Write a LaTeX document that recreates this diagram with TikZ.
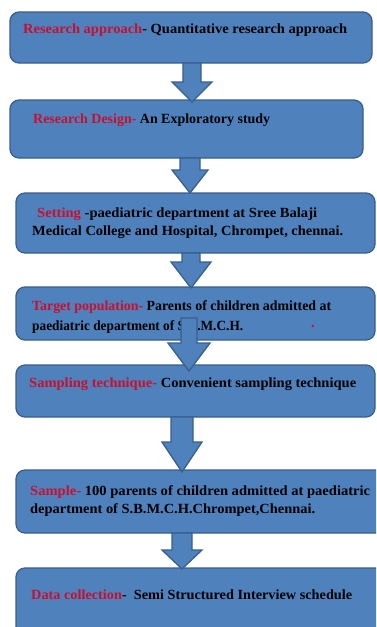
\documentclass[tikz,border=0pt]{standalone}
\usepackage{fontspec}
\setmainfont{Liberation Serif}
\usepackage{graphicx}
\definecolor{boxfill}{HTML}{4F81BD}
\definecolor{boxline}{HTML}{3A5F8B}
\definecolor{tred}{HTML}{C8102E}
\tikzset{
  flowbox/.style={draw=boxline, fill=boxfill, line width=1.3pt, rounded corners=9pt, inner sep=0pt},
  blockarrow/.style={draw=boxline, fill=boxfill, line width=1.3pt, line join=miter},
  txt/.style={anchor=base west, inner sep=0pt, font=\bfseries\fontsize{14}{16}\selectfont, text=black},
}
\newcommand{\fitw}[2]{\resizebox{#1}{\height}{#2}}
\newcommand{\rd}[1]{\textcolor{tred}{#1}}
% block arrow: centre x, top y, neck y, tip y, shaft half width, head half width
\newcommand{\barrow}[6]{%
  \draw[blockarrow] ({#1-#5},#2) -- ({#1-#5},#3) -- ({#1-#6},#3) -- (#1,#4)
    -- ({#1+#6},#3) -- ({#1+#5},#3) -- ({#1+#5},#2) -- cycle;}
\begin{document}
\begin{tikzpicture}[x=1pt,y=-1pt]
\useasboundingbox (0,0) rectangle (376,627);
\clip (0,0) rectangle (376,627);
\fill[white] (0,0) rectangle (376,627);

% boxes
\node[flowbox, minimum width=362pt, minimum height=51pt] (b1) at (191,37.5) {};
\node[flowbox, minimum width=353pt, minimum height=58pt] (b2) at (186.5,129) {};
\node[flowbox, minimum width=359pt, minimum height=60pt] (b3) at (195.5,223) {};
\node[flowbox, minimum width=359pt, minimum height=53pt] (b4) at (195.5,313.5) {};
\node[flowbox, minimum width=359pt, minimum height=52pt] (b5) at (195.5,391) {};
\node[flowbox, minimum width=369pt, minimum height=63pt] (b6) at (200.5,501.5) {};
\node[flowbox, minimum width=369pt, minimum height=72pt] (b7) at (200.5,604) {};

% texts
\node[txt] (t1) at (23,33) {\fitw{324pt}{\rd{Research approach}- Quantitative research approach}};
\node[txt] (t2) at (33,123) {\fitw{237pt}{\rd{Research Design-} An Exploratory study}};
\node[txt] (t3a) at (37,217) {\fitw{280pt}{\rd{Setting} -paediatric department at Sree Balaji}};
\node[txt] (t3b) at (32,235) {\fitw{311pt}{Medical College and Hospital, Chrompet, chennai.}};
\node[txt] (t4a) at (32,310) {\fitw{299pt}{\rd{Target population-} Parents of children admitted at}};
\node[txt] (t4b) at (32,330) {\fitw{211pt}{paediatric department of S.B.M.C.H.}};
\node[txt, text=tred] (t4c) at (311,327) {.};
\node[txt] (t5) at (29,387) {\fitw{327pt}{\rd{Sampling technique-} Convenient sampling technique}};
\node[txt] (t6a) at (30,495) {\fitw{340pt}{\rd{Sample-} 100 parents of children admitted at paediatric}};
\node[txt] (t6b) at (30,513) {\fitw{285pt}{department of S.B.M.C.H.Chrompet,Chennai.}};
\node[txt] (t7) at (31,599) {\fitw{321pt}{\rd{Data collection}- \ Semi Structured Interview schedule}};

% block arrows
\barrow{192}{63}{82}{102}{9}{20}
\barrow{190}{158}{170}{193}{10}{18}
\barrow{191}{253}{262}{288}{9}{20}
\barrow{189}{318}{343}{371}{8}{21}
\barrow{182}{417}{442}{472}{11}{20}
\barrow{182}{533}{550}{569}{10}{20}
\end{tikzpicture}
\end{document}
